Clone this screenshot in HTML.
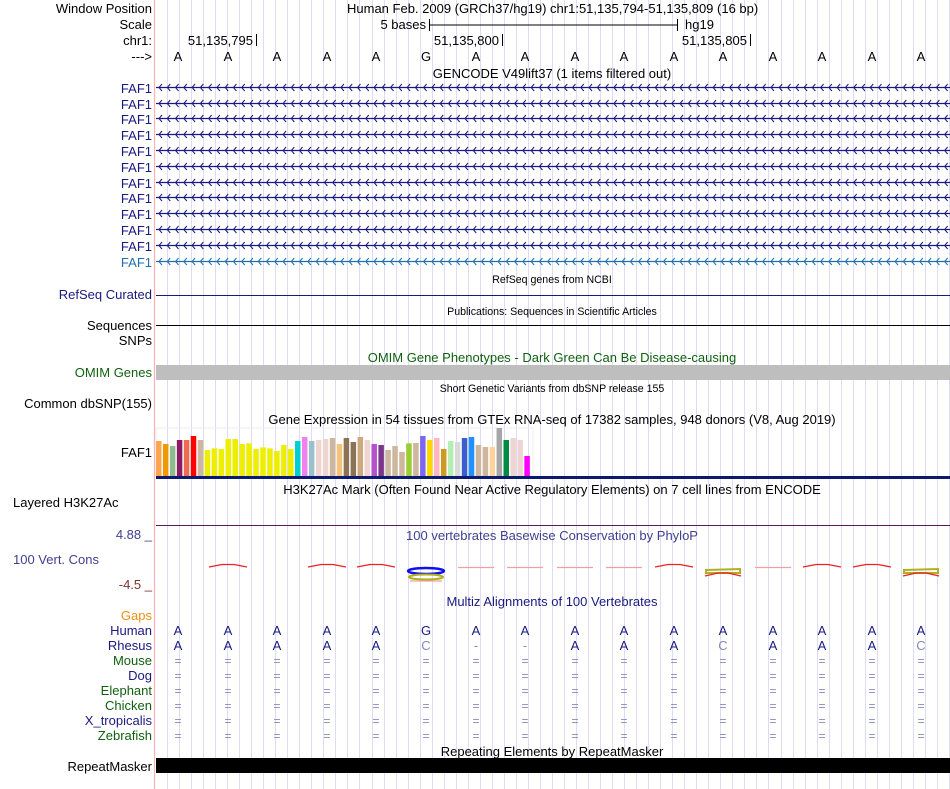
<!DOCTYPE html>
<html><head><meta charset="utf-8"><style>
html,body{margin:0;padding:0;background:#fff;}
svg{display:block;font-family:"Liberation Sans",sans-serif;}
</style></head><body>
<svg width="950" height="789" xmlns="http://www.w3.org/2000/svg" font-size="13">
<g id="grid"></g>
<line x1="154.5" y1="0" x2="154.5" y2="789" stroke="#ffb0b0" stroke-width="1.2"/>
<g text-anchor="end" font-size="13">
<text x="152" y="13">Window Position</text>
<text x="152" y="29">Scale</text>
<text x="152" y="45">chr1:</text>
<text x="152" y="61">---&gt;</text>
<g fill="#191980">
<text x="152" y="93">FAF1</text><text x="152" y="109">FAF1</text><text x="152" y="124">FAF1</text><text x="152" y="140">FAF1</text><text x="152" y="156">FAF1</text><text x="152" y="172">FAF1</text><text x="152" y="188">FAF1</text><text x="152" y="203">FAF1</text><text x="152" y="219">FAF1</text><text x="152" y="235">FAF1</text><text x="152" y="251">FAF1</text>
</g>
<text x="152" y="267" fill="#1f6fb0">FAF1</text>
<text x="152" y="299" fill="#191980">RefSeq Curated</text>
<text x="152" y="330">Sequences</text>
<text x="152" y="345">SNPs</text>
<text x="152" y="377" fill="#106010">OMIM Genes</text>
<text x="152" y="408">Common dbSNP(155)</text>
<text x="152" y="457">FAF1</text>
<text x="152" y="539" fill="#404090">4.88 _</text>
<text x="152" y="589" fill="#803030">-4.5 _</text>
<text x="152" y="620" fill="#f09010">Gaps</text>
<text x="152" y="635" fill="#191980">Human</text>
<text x="152" y="650" fill="#191980">Rhesus</text>
<text x="152" y="665" fill="#106010">Mouse</text>
<text x="152" y="680" fill="#191980">Dog</text>
<text x="152" y="695" fill="#106010">Elephant</text>
<text x="152" y="710" fill="#106010">Chicken</text>
<text x="152" y="725" fill="#191980">X_tropicalis</text>
<text x="152" y="740" fill="#106010">Zebrafish</text>
<text x="152" y="771">RepeatMasker</text>
<text x="253" y="45">51,135,795</text>
<text x="499" y="45">51,135,800</text>
<text x="747" y="45">51,135,805</text>
<text x="426" y="29">5 bases</text>
</g>
<text x="13" y="507">Layered H3K27Ac</text>
<text x="13" y="564" fill="#404090">100 Vert. Cons</text>
<text x="347" y="13">Human Feb. 2009 (GRCh37/hg19)   chr1:51,135,794-51,135,809 (16 bp)</text>
<line x1="429.5" y1="19" x2="429.5" y2="31" stroke="#000"/><line x1="677.5" y1="19" x2="677.5" y2="31" stroke="#000"/>
<line x1="429" y1="25" x2="678" y2="25" stroke="#000"/>
<text x="685" y="29">hg19</text>
<line x1="256.5" y1="34" x2="256.5" y2="46" stroke="#000"/>
<line x1="502.5" y1="34" x2="502.5" y2="46" stroke="#000"/>
<line x1="750.5" y1="34" x2="750.5" y2="46" stroke="#000"/>
<g text-anchor="middle">
<text x="178" y="61">A</text><text x="228" y="61">A</text><text x="277" y="61">A</text><text x="327" y="61">A</text><text x="376" y="61">A</text><text x="426" y="61">G</text><text x="476" y="61">A</text><text x="525" y="61">A</text><text x="575" y="61">A</text><text x="624" y="61">A</text><text x="674" y="61">A</text><text x="723" y="61">A</text><text x="773" y="61">A</text><text x="822" y="61">A</text><text x="872" y="61">A</text><text x="921" y="61">A</text>
<text x="552" y="78">GENCODE V49lift37 (1 items filtered out)</text>
<text x="552" y="283" font-size="10.6">RefSeq genes from NCBI</text>
<text x="552" y="315" font-size="10.6">Publications: Sequences in Scientific Articles</text>
<text x="552" y="362" fill="#106010">OMIM Gene Phenotypes - Dark Green Can Be Disease-causing</text>
<text x="552" y="392" font-size="10.6">Short Genetic Variants from dbSNP release 155</text>
<text x="552" y="424">Gene Expression in 54 tissues from GTEx RNA-seq of 17382 samples, 948 donors (V8, Aug 2019)</text>
<text x="552" y="494">H3K27Ac Mark (Often Found Near Active Regulatory Elements) on 7 cell lines from ENCODE</text>
<text x="552" y="540" fill="#404090">100 vertebrates Basewise Conservation by PhyloP</text>
<text x="552" y="606" fill="#191980">Multiz Alignments of 100 Vertebrates</text>
<text x="552" y="756">Repeating Elements by RepeatMasker</text>
<g fill="#191980">
<text x="178" y="635">A</text><text x="228" y="635">A</text><text x="277" y="635">A</text><text x="327" y="635">A</text><text x="376" y="635">A</text><text x="426" y="635">G</text><text x="476" y="635">A</text><text x="525" y="635">A</text><text x="575" y="635">A</text><text x="624" y="635">A</text><text x="674" y="635">A</text><text x="723" y="635">A</text><text x="773" y="635">A</text><text x="822" y="635">A</text><text x="872" y="635">A</text><text x="921" y="635">A</text>
<text x="178" y="650">A</text><text x="228" y="650">A</text><text x="277" y="650">A</text><text x="327" y="650">A</text><text x="376" y="650">A</text><text x="426" y="650" fill="#8888bb">C</text><text x="476" y="650" fill="#8888bb">-</text><text x="525" y="650" fill="#8888bb">-</text><text x="575" y="650">A</text><text x="624" y="650">A</text><text x="674" y="650">A</text><text x="723" y="650" fill="#8888bb">C</text><text x="773" y="650">A</text><text x="822" y="650">A</text><text x="872" y="650">A</text><text x="921" y="650" fill="#8888bb">C</text>
</g>
<g id="eq" fill="#8888bb" font-size="12"></g>
</g>
<g id="genes"></g>
<line x1="156" y1="295.5" x2="950" y2="295.5" stroke="#191980"/>
<line x1="156" y1="325.5" x2="950" y2="325.5" stroke="#000"/>
<rect x="156" y="365" width="794" height="15" fill="#bebebe"/>
<g id="bars"></g>
<rect x="156" y="476" width="794" height="3" fill="#0b1a6e"/>
<line x1="156" y1="525.5" x2="950" y2="525.5" stroke="#5a1a5a"/>
<g id="cons" fill="none" stroke-width="1.3"></g>
<rect x="156" y="758" width="794" height="15" fill="#000"/>
</svg>
<script>
var NS="http://www.w3.org/2000/svg";
function el(p,t,a){var e=document.createElementNS(NS,t);for(var k in a)e.setAttribute(k,a[k]);document.getElementById(p).appendChild(e);return e;}
for(var x=167;x<950;x+=12.03){el("grid","line",{x1:Math.round(x)+.5,y1:0,x2:Math.round(x)+.5,y2:789,stroke:"#dcdcf4"});}
var ys=[87,103,118,134,150,166,182,197,213,229,245,261];
ys.forEach(function(y,i){var c=i==11?"#1f6fb0":"#191980";
el("genes","line",{x1:156,y1:y+.5,x2:950,y2:y+.5,stroke:c,"stroke-width":1.3});
var d="";for(var x=159;x<948;x+=8.27){d+="M"+(x+3)+" "+(y-3)+"L"+x+" "+(y+.5)+"L"+(x+3)+" "+(y+4);}
el("genes","path",{d:d,stroke:c,fill:"none","stroke-width":1});});
var t=[63,72,78,60,60,48,60,90,85,87,57,57,72,70,87,82,85,93,75,87,63,51,63,60,57,54,72,54,66,51,60,72,75,90,78,96,70,69,48,60,54,87,63,66,54,51,75,81,81,24,60,54,60,108];
var Y="#eeee00";
var cols=["#ffa54f","#ee9a00","#8fbc8f","#8b1c62","#ee6a50","#ff0000","#cdb79e",Y,Y,Y,Y,Y,Y,Y,Y,Y,Y,Y,Y,Y,"#00ced1","#ee82ee","#9ac0cd","#eed5d2","#eed5d2","#cdb79e","#f4c27a","#8b7355","#8b7355","#cdaa7d","#eed5d2","#b452cd","#7a378b","#cdb79e","#cdb79e","#cdb79e","#9acd32","#cdb79e","#7b68ee","#ffd700","#ffb6c1","#cd9b1d","#b4eeb4","#d9d9d9","#3a5fcd","#1e90ff","#cdb79e","#cdb79e","#ffd39b","#a6a6a6","#008b45","#eed5d2","#eed5d2","#ff00ff"];
el("bars","rect",{x:156,y:428,width:377,height:48,fill:"none",stroke:"#eeeeee"});
t.forEach(function(v,i){var top=420+v/3;el("bars","rect",{x:156+i*6.95,y:top,width:5.5,height:476-top,fill:cols[i]});});
var bx=[178,228,277,327,376,426,476,525,575,624,674,723,773,822,872,921];
var eqy=[665,680,695,710,725,740];
bx.forEach(function(x){eqy.forEach(function(y){var e=el("eq","text",{x:x,y:y});e.textContent="=";});});
var typ=["n","a","n","a","a","G","f","f","f","f","a","y","f","a","a","yr"];
typ.forEach(function(k,i){var x=bx[i];
if(k=="a")el("cons","path",{d:"M"+(x-19)+" 567 L"+(x-6)+" 564.5 L"+(x+6)+" 564.5 L"+(x+19)+" 567",stroke:"#ee2020"});
if(k=="f")el("cons","line",{x1:x-18,y1:567.5,x2:x+18,y2:567.5,stroke:"#f4a0a0"});
if(k=="G"){el("cons","ellipse",{cx:x,cy:571,rx:18,ry:3,stroke:"#1010ee","stroke-width":2.5});el("cons","ellipse",{cx:x,cy:577,rx:17,ry:2.5,stroke:"#b0b020","stroke-width":2});el("cons","line",{x1:x-16,y1:581,x2:x+16,y2:581,stroke:"#f0a0a0"});}
if(k=="y"||k=="yr"){el("cons","path",{d:"M"+(x-17)+" 570 L"+(x+17)+" 569 L"+(x+17)+" 573 L"+(x-17)+" 573 Z",stroke:"#b0b020","stroke-width":2});el("cons","path",{d:"M"+(x-18)+" 576 L"+(x-5)+" 573 L"+(x+5)+" 573 L"+(x+18)+" 576",stroke:"#ee2020"});}
});
</script>
</body></html>
